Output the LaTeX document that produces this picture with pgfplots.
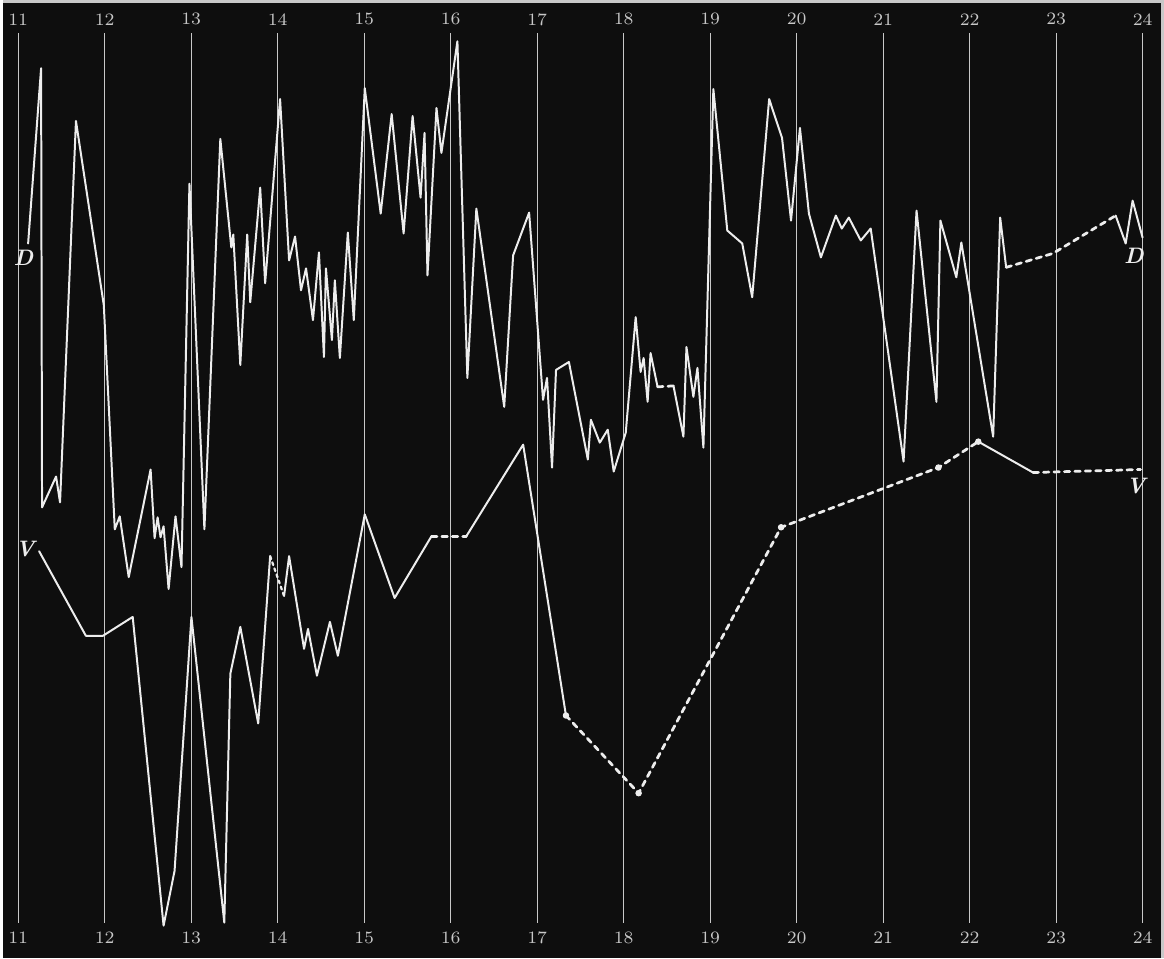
\documentclass[border=0pt]{standalone}
\usepackage{pgfplots}
\pgfplotsset{compat=1.18}
\definecolor{bg}{HTML}{0E0E0E}
\definecolor{ink}{HTML}{EDEDED}
\definecolor{rule}{HTML}{C8C8C8}

% D curve, solid stretches
\pgfplotstableread{
x y
11.115 717
11.265 893
11.276 452
11.438 483
11.484 457
11.668 840
11.990 655
12.117 430
12.174 443
12.278 382
12.531 490
12.577 421
12.612 442
12.646 422
12.681 433
12.739 370
12.819 443
12.888 392
12.980 777
13.153 430
13.337 822
13.464 713
13.487 726
13.568 595
13.648 726
13.683 658
13.798 773
13.855 677
14.028 862
14.132 700
14.201 724
14.270 670
14.328 692
14.408 640
14.477 708
14.535 603
14.558 692
14.627 620
14.661 680
14.719 602
14.811 728
14.880 640
15.007 873
15.191 747
15.318 847
15.456 727
15.560 845
15.652 763
15.698 828
15.732 685
15.836 853
15.893 808
16.078 920
16.193 582
16.297 752
16.619 553
16.722 705
16.907 748
17.068 560
17.114 582
17.172 492
17.218 590
17.367 598
17.586 500
17.621 540
17.724 517
17.816 530
17.885 488
18.024 527
18.139 643
18.196 588
18.231 602
18.277 558
18.311 607
18.392 573
}\Done

\pgfplotstableread{
x y
18.576 574
18.691 523
18.726 613
18.806 563
18.853 592
18.922 512
19.037 872
19.198 730
19.371 717
19.486 663
19.682 862
19.831 823
19.935 740
20.038 833
20.142 747
20.280 703
20.453 745
20.522 732
20.603 743
20.741 720
20.856 732
21.236 498
21.386 750
21.616 558
21.662 740
21.846 683
21.904 718
22.272 523
22.353 743
22.422 693
}\Dtwo

% V curve, solid stretches
\pgfplotstableread{
x y
11.242 408
11.783 323
11.979 323
12.324 342
12.681 32
12.808 87
13.003 342
13.383 35
13.453 285
13.568 332
13.775 235
13.913 403
}\Vone

\pgfplotstableread{
x y
14.074 363
14.132 403
14.305 310
14.351 330
14.454 283
14.604 337
14.696 303
15.007 445
15.352 361
15.778 423
}\Vtwo

\begin{document}
\begin{tikzpicture}
\begin{axis}[
  width=16.4cm, height=13.525cm, scale only axis,
  xmin=10.8273, xmax=24.2297, ymin=0, ymax=960,
  axis lines=none, clip=false,
  every axis plot/.append style={line join=round, line cap=round},
  solidline/.style={ink, line width=0.8pt, mark=none},
  dashline/.style={ink, line width=1.1pt, dash pattern=on 2.2pt off 2pt, mark=none},
]
% dark ground and frame
\fill[bg] (rel axis cs:0,0) rectangle (rel axis cs:1,1);
\draw[rule, line width=1.2pt] (rel axis cs:0,1) -- (rel axis cs:1,1) -- (rel axis cs:1,0);

% day rules and their numbers
\pgfplotsinvokeforeach{11,...,24}{
  \draw[rule, line width=0.45pt] (axis cs:#1,35) -- (axis cs:#1,928);
  \node[text=rule, font=\scriptsize] at (axis cs:#1,942) {#1};
  \node[text=rule, font=\scriptsize] at (axis cs:#1,20) {#1};
}

% D
\addplot[solidline] table {\Done};
\addplot[dashline] coordinates {(18.392,573) (18.576,574)};
\addplot[solidline] table {\Dtwo};
\addplot[dashline] coordinates {(22.422,693) (22.963,707) (23.688,745)};
\addplot[solidline] coordinates {(23.688,745) (23.804,717) (23.884,760) (23.999,723)};

% V
\addplot[solidline] table {\Vone};
\addplot[dashline, line width=0.9pt, dash pattern=on 1.2pt off 1.4pt] coordinates {(13.913,403) (14.074,363)};
\addplot[solidline] table {\Vtwo};
\addplot[dashline] coordinates {(15.778,423) (16.181,423)};
\addplot[solidline] coordinates {(16.181,423) (16.838,515) (17.333,243)};
\addplot[dashline] coordinates {(17.333,243) (18.173,165) (19.820,432) (21.639,492) (22.100,518)};
\addplot[only marks, mark=*, mark size=1.1pt, ink] coordinates {(17.333,243) (18.173,165) (19.820,432) (21.639,492) (22.100,518)};
\addplot[solidline] coordinates {(22.100,518) (22.733,487)};
\addplot[dashline] coordinates {(22.733,487) (23.976,490)};

% curve names
\node[text=ink, font=\small\bfseries\itshape] at (axis cs:11.06,703) {D};
\node[text=ink, font=\small\bfseries\itshape] at (axis cs:23.900,705) {D};
\node[text=ink, font=\small\bfseries\itshape] at (axis cs:11.08,410) {V};
\node[text=ink, font=\small\bfseries\itshape] at (axis cs:23.920,473) {V};
\end{axis}
\end{tikzpicture}
\end{document}
